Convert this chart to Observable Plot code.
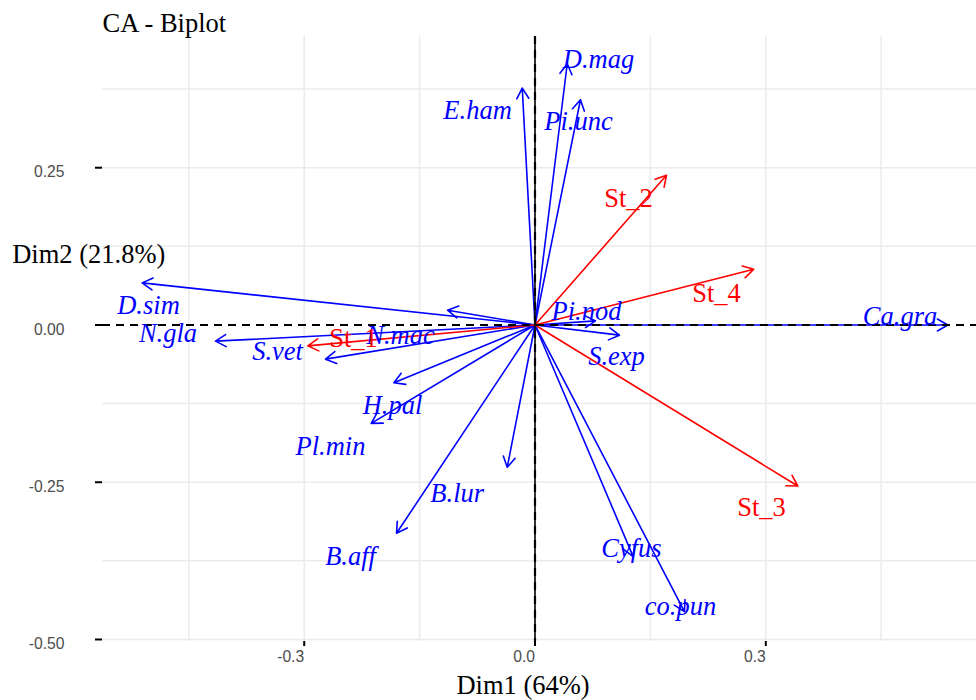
<!DOCTYPE html>
<html>
<head>
<meta charset="utf-8">
<script src="https://cdn.jsdelivr.net/npm/d3@7"></script>
<script src="https://cdn.jsdelivr.net/npm/@observablehq/plot@0.6"></script>
<style>
  body { margin: 0; background: #ffffff; }
  #chart svg { display: block; background: #ffffff; }
</style>
</head>
<body>
<div id="chart"></div>
<script>
// ---- Data ----
const colNames = ["D.mag","E.ham","Pi.unc","D.sim","N.mac","N.gla","S.vet","H.pal","Pl.min","B.aff","B.lur","Cyfus","co.pun","Pi.nod","S.exp","Ca.gra"];
const colDim1  = [0.0419,-0.0166,0.0591,-0.5106,-0.1137,-0.4153,-0.2723,-0.1835,-0.2129,-0.1800,-0.0361,0.1276,0.1943,0.0786,0.1098,0.5366];
const colDim2  = [0.4153,0.3765,0.3581,0.0669,0.0235,-0.0257,-0.0543,-0.0919,-0.1564,-0.3311,-0.2263,-0.3683,-0.4556,0.0065,-0.0162,0.0000];
// repelled label anchors (data units)
const colLabelDim1 = [0.0825,-0.0747,0.0565,-0.5024,-0.1748,-0.4771,-0.3347,-0.1852,-0.2658,-0.2398,-0.1011,0.1254,0.1891,0.0669,0.1059,0.4745];
const colLabelDim2 = [0.4226,0.3406,0.3234,0.0302,-0.0162,-0.0135,-0.0424,-0.1273,-0.1940,-0.3688,-0.2676,-0.3557,-0.4470,0.0208,-0.0507,0.0129];

const rowNames = ["St_1","St_2","St_3","St_4"];
const rowDim1  = [-0.2953,0.1709,0.3416,0.2844];
const rowDim2  = [-0.0332,0.2379,-0.2560,0.0886];
const rowLabelDim1 = [-0.2359,0.1215,0.2944,0.2359];
const rowLabelDim2 = [-0.0210,0.2014,-0.2909,0.0500];

const xTicks = [-0.3, 0, 0.3];
const yTicks = [0.25, 0, -0.25, -0.5];
const xGrid  = [-0.45, -0.3, -0.15, 0.15, 0.3, 0.45];
const yGrid  = [0.375, 0.25, 0.125, -0.125, -0.25, -0.375, -0.5];
const xDomain = [-0.5622, 0.5739];
const yDomain = [-0.5032, 0.4586];

const titleText = "CA - Biplot";
const xLabelText = "Dim1 (64%)";
const yLabelText = "Dim2 (21.8%)";

// ---- Build tables ----
const cols = colNames.map((name, i) => ({name, x: colDim1[i], y: colDim2[i], lx: colLabelDim1[i], ly: colLabelDim2[i]}));
const rows = rowNames.map((name, i) => ({name, x: rowDim1[i], y: rowDim2[i], lx: rowLabelDim1[i], ly: rowLabelDim2[i]}));

const serif = "'Liberation Serif', 'Times New Roman', 'DejaVu Serif', serif";
const sans = "'Liberation Sans', Arial, Helvetica, sans-serif";
const BLUE = "#0000FF", RED = "#FF0000";

const chart = Plot.plot({
  width: 976,
  height: 700,
  marginLeft: 102,
  marginRight: 0,
  marginTop: 36,
  marginBottom: 59,
  x: {domain: xDomain, axis: null},
  y: {domain: yDomain, axis: null},
  marks: [
    // grid
    Plot.ruleX(xGrid, {x: d => d, stroke: "#EBEBEB", strokeWidth: 1.5}),
    Plot.ruleY(yGrid, {y: d => d, stroke: "#EBEBEB", strokeWidth: 1.5}),
    // axis ticks
    Plot.axisY({ticks: yTicks, tickSize: 7, tickFormat: () => "", stroke: "black", strokeWidth: 2, label: null}),
    Plot.axisX({ticks: xTicks, tickSize: 5, tickFormat: () => "", stroke: "black", strokeWidth: 2, label: null}),
    // tick labels
    Plot.text(yTicks, {y: d => d, text: d => d.toFixed(2), frameAnchor: "left", dx: -38, dy: 4.5,
      textAnchor: "end", fill: "#4D4D4D", fontSize: 15.7, fontFamily: sans}),
    Plot.text(xTicks, {x: d => d, text: d => d.toFixed(1), frameAnchor: "bottom", dy: 20,
      textAnchor: "end", fill: "#4D4D4D", fontSize: 15.7, fontFamily: sans}),
    // arrows
    Plot.arrow(cols, {x1: () => 0, y1: () => 0, x2: "x", y2: "y", stroke: BLUE, strokeWidth: 1.6, headLength: 11.25, headAngle: 60}),
    Plot.arrow(rows, {x1: () => 0, y1: () => 0, x2: "x", y2: "y", stroke: RED, strokeWidth: 1.6, headLength: 11.25, headAngle: 60}),
    // zero lines
    Plot.ruleY([0], {stroke: "black", strokeWidth: 2, strokeDasharray: "8,6"}),
    Plot.ruleX([0], {stroke: "black", strokeWidth: 1.6}),
    Plot.ruleX([0], {stroke: "black", strokeWidth: 2.2, strokeDasharray: "8,6"}),
    // labels
    Plot.text(cols, {x: "lx", y: "ly", text: "name", fill: BLUE, fontSize: 26.5, fontFamily: serif, fontStyle: "italic"}),
    Plot.text(rows, {x: "lx", y: "ly", text: "name", fill: RED, fontSize: 26.5, fontFamily: serif}),
    // titles
    Plot.text([titleText], {frameAnchor: "top-left", textAnchor: "start", lineAnchor: "bottom", dy: -4.3,
      fontSize: 26.5, fontFamily: serif, fill: "black"}),
    Plot.text([yLabelText], {frameAnchor: "top-left", textAnchor: "start", lineAnchor: "bottom", dx: -90.3, dy: 226,
      fontSize: 26.5, fontFamily: serif, fill: "black"}),
    Plot.text([xLabelText], {frameAnchor: "bottom", textAnchor: "middle", lineAnchor: "bottom", dx: -16.5, dy: 52.3,
      fontSize: 26.5, fontFamily: serif, fill: "black"})
  ]
});
document.getElementById("chart").appendChild(chart);
</script>
</body>
</html>
